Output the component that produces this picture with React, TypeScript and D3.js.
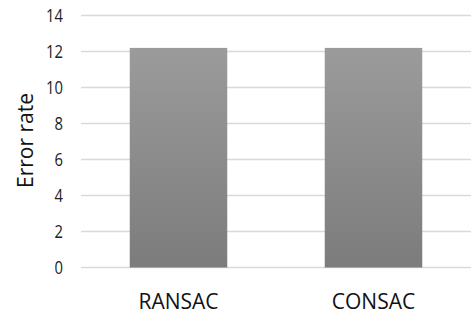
import React from "react";
import * as d3 from "d3";

const categories = ["RANSAC", "CONSAC"];
const values = [12.2, 12.2];
const yTicks = [0, 2, 4, 6, 8, 10, 12, 14];
const yTitle = "Error rate";

export default function App() {
  const W = 471, H = 314;
  const left = 81, right = 471, top = 15.5, bottom = 267.5;
  const x = d3.scaleBand<string>().domain(categories).range([left, right]).paddingInner(0.5).paddingOuter(0.25);
  const y = d3.scaleLinear().domain([0, 14]).range([bottom, top]);
  const font = "'Open Sans', 'Noto Sans', sans-serif";
  return (
    <svg width={W} height={H} style={{ position: "absolute", left: 0, top: 0, background: "#fff" }}>
      <defs>
        <linearGradient id="barGrad" x1="0" y1="0" x2="0" y2="1">
          <stop offset="0" stopColor="#9b9b9b" />
          <stop offset="1" stopColor="#7c7c7c" />
        </linearGradient>
      </defs>
      {yTicks.map((t) => (
        <g key={t}>
          <line x1={left} x2={right} y1={y(t)} y2={y(t)} stroke="#d9d9d9" strokeWidth={1.6} />
          <text
            transform={`translate(63,${y(t) + 6.5}) scale(0.8,1)`}
            textAnchor="end"
            fontFamily={font}
            fontSize={18.5}
            fill="#222"
          >
            {t}
          </text>
        </g>
      ))}
      {categories.map((c, i) => (
        <rect key={c} x={x(c)} y={y(values[i])} width={x.bandwidth()} height={y(0) - y(values[i])} fill="url(#barGrad)" />
      ))}
      {categories.map((c) => (
        <text key={c} x={(x(c) as number) + x.bandwidth() / 2} y={308.5} textAnchor="middle" fontFamily={font} fontSize={21} fill="#111">
          {c}
        </text>
      ))}
      <text transform="translate(33,140.5) rotate(-90)" textAnchor="middle" fontFamily={font} fontSize={21} fill="#111">
        {yTitle}
      </text>
    </svg>
  );
}
